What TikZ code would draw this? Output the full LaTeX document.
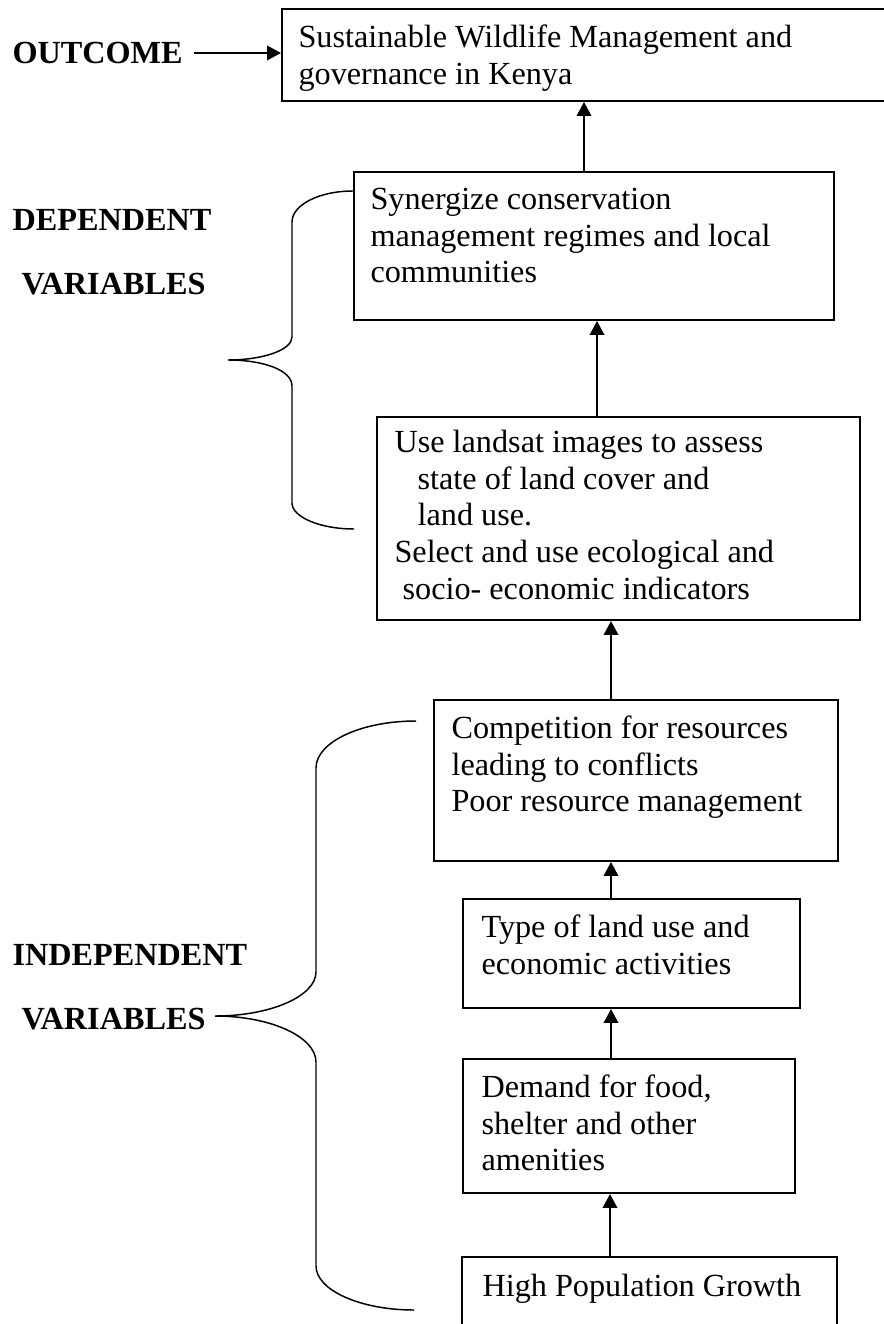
\documentclass[tikz,border=0pt]{standalone}
\usepackage{fontspec}
\setmainfont{Liberation Serif}
\usetikzlibrary{arrows.meta,fit}

\begin{document}
\begin{tikzpicture}[x=0.3723pt, y=-0.3723pt, font=\fontsize{12}{13.7}\selectfont]
    \tikzset{
        box/.style={draw, line width=0.75pt, inner sep=0pt},
        txt/.style={align=left, inner sep=0pt, anchor=north west},
        lbl/.style={font=\fontsize{12}{13.7}\selectfont\bfseries, inner sep=0pt, anchor=base west},
        arr/.style={line width=0.75pt, -{Triangle[length=5.2pt, width=5.4pt]}},
        brace/.style={line width=0.55pt},
    }
    \useasboundingbox (0,0) rectangle (884,1324);

    % Boxes
    \node[box, fit={(282,9) (900,101)}] (b1) {};
    \node[box, fit={(354,172) (834,320)}] (b2) {};
    \node[box, fit={(377,417) (860,620)}] (b3) {};
    \node[box, fit={(434,700) (838,861)}] (b4) {};
    \node[box, fit={(463,899) (800,1008)}] (b5) {};
    \node[box, fit={(463,1059) (795,1193)}] (b6) {};
    \node[box, fit={(462,1257) (837,1340)}] (b7) {};

    % Box texts
    \node[txt] (t1) at (298,21) {\strut Sustainable Wildlife Management and\\governance in Kenya};
    \node[txt] (t2) at (370,183) {\strut Synergize conservation\\management regimes and local\\communities};
    \node[txt] (t3) at (394,426) {\strut Use landsat images to assess\\\hspace*{8.6pt}state of land cover and\\\hspace*{8.6pt}land use.\\Select and use ecological and\\\hspace*{3pt}socio- economic indicators};
    \node[txt] (t4) at (451,712) {\strut Competition for resources\\leading to conflicts\\Poor resource management};
    \node[txt] (t5) at (481,911) {\strut Type of land use and\\economic activities};
    \node[txt] (t6) at (481,1071) {\strut Demand for food,\\shelter and other\\amenities};
    \node[txt] (t7) at (482,1270) {\strut High Population Growth};

    % Labels
    \node[lbl] (out) at (12,64) {OUTCOME};
    \node[lbl] (dep1) at (12,231) {DEPENDENT};
    \node[lbl] (dep2) at (21,295) {VARIABLES};
    \node[lbl] (ind1) at (12,965) {INDEPENDENT};
    \node[lbl] (ind2) at (21,1029) {VARIABLES};

    % Arrows
    \draw[arr] ([xshift=4pt]out.east |- 0,53) -- (b1.west |- 0,53);
    \draw[arr] (b2.north -| 584,0) -- (b1.south -| 584,0);
    \draw[arr] (b3.north -| 597,0) -- (b2.south -| 597,0);
    \draw[arr] (b4.north -| 611,0) -- (b3.south -| 611,0);
    \draw[arr] (b5.north -| 611,0) -- (b4.south -| 611,0);
    \draw[arr] (b6.north -| 611,0) -- (b5.south -| 611,0);
    \draw[arr] (b7.north -| 610,0) -- (b6.south -| 610,0);

    % Braces
    \draw[brace] (353,191) .. controls (319,191) and (292,205) .. (292,222)
        -- (292,337) .. controls (292,350) and (263,360) .. (228,360)
        .. controls (263,360) and (292,370) .. (292,386)
        -- (292,503) .. controls (292,517) and (320,529) .. (354,529);
    \draw[brace] (416,721) .. controls (361,721) and (316,742) .. (316,768)
        -- (316,972) .. controls (316,996) and (271,1016) .. (215,1016)
        .. controls (271,1016) and (316,1037) .. (316,1062)
        -- (316,1266) .. controls (316,1290) and (360,1310) .. (414,1310);
\end{tikzpicture}
\end{document}
